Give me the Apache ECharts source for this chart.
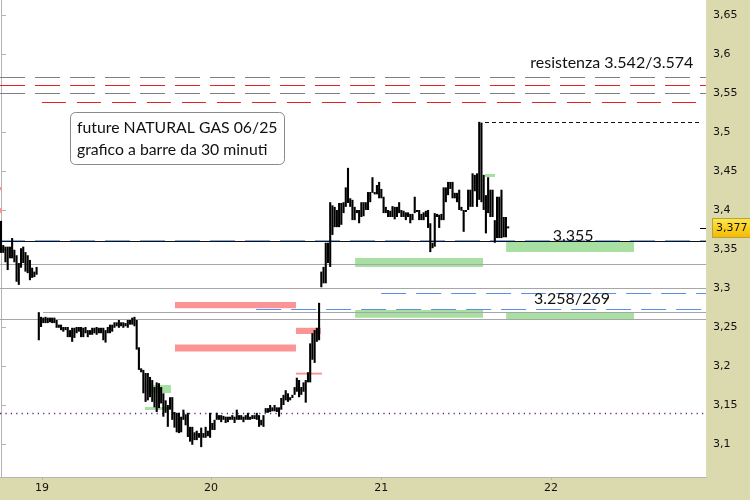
<!DOCTYPE html>
<html><head><meta charset="utf-8">
<script src="https://cdn.jsdelivr.net/npm/echarts@6/dist/echarts.min.js"></script>
<style>html,body{margin:0;padding:0;background:#dbd9ae;}#c{width:750px;height:500px;}</style>
</head><body><div id="c"></div>
<script>
// 30-minute bars: highs and lows (in order)
const highs = [
3.386,3.355,3.353,3.353,3.353,3.364,3.349,3.342,3.332,3.351,3.353,3.346,3.342,3.336,3.326,3.321,3.327,
3.269,3.263,3.262,3.263,3.262,3.262,3.262,3.262,3.259,3.253,3.253,3.250,3.250,3.250,3.246,3.249,3.249,3.250,3.250,3.250,3.249,3.250,3.246,3.246,3.249,3.249,3.250,3.249,3.249,3.249,3.246,3.250,3.253,3.253,3.256,3.256,3.259,3.256,3.256,3.255,3.259,3.259,3.262,3.263,
3.259,3.224,3.197,3.195,3.191,3.191,3.186,3.182,3.173,3.179,3.178,3.173,3.165,3.156,3.150,3.160,3.160,3.141,3.140,3.140,
3.135,3.144,3.138,3.140,3.122,3.122,3.115,3.117,3.114,3.121,3.114,3.122,3.117,3.140,3.127,3.131,3.140,3.137,3.137,3.136,
3.135,3.135,3.135,3.137,3.135,3.144,3.137,3.137,3.135,3.137,3.140,3.135,3.137,3.137,3.140,3.137,3.131,3.137,3.146,3.146,
3.150,3.147,3.150,3.147,3.147,3.159,3.163,3.169,3.165,3.160,3.163,3.173,3.185,3.182,3.173,3.179,3.182,3.192,3.229,3.242,
3.246,3.249,3.281,
3.321,3.327,3.358,3.358,3.410,3.406,3.404,3.400,3.409,3.409,3.410,3.429,3.454,3.415,3.413,3.404,3.400,3.400,3.410,3.410,
3.410,3.423,3.423,3.442,3.423,3.432,3.436,3.427,3.417,3.404,3.400,3.399,3.405,3.404,3.404,3.410,3.400,3.399,3.397,3.397,
3.395,3.395,3.417,3.400,3.400,3.395,3.397,3.399,3.400,3.383,3.358,3.396,3.395,3.394,3.395,3.429,3.429,3.436,3.436,3.436,
3.422,3.422,3.426,3.404,3.400,3.400,3.426,3.426,3.447,3.445,3.447,3.513,3.512,3.445,3.419,3.442,3.426,3.426,3.387,3.417,
3.417,3.426,3.391,3.391,3.379
];
const lows = [
3.345,3.345,3.333,3.323,3.338,3.338,3.333,3.308,3.304,3.326,3.332,3.321,3.319,3.310,3.313,3.314,3.317,
3.233,3.250,3.255,3.255,3.255,3.256,3.255,3.255,3.249,3.249,3.246,3.244,3.246,3.237,3.237,3.231,3.236,3.242,3.244,3.237,3.237,3.242,3.237,3.240,3.240,3.242,3.240,3.242,3.242,3.233,3.230,3.242,3.242,3.244,3.249,3.251,3.249,3.251,3.249,3.251,3.249,3.253,3.253,3.251,
3.221,3.195,3.192,3.165,3.154,3.156,3.160,3.154,3.147,3.141,3.146,3.152,3.135,3.140,3.122,3.144,3.131,3.121,3.115,3.114,
3.115,3.131,3.124,3.109,3.103,3.099,3.105,3.105,3.108,3.096,3.108,3.108,3.110,3.108,3.118,3.118,3.131,3.131,3.128,3.131,
3.127,3.128,3.131,3.131,3.127,3.131,3.131,3.131,3.128,3.131,3.131,3.131,3.132,3.132,3.131,3.122,3.124,3.122,3.140,3.140,
3.141,3.142,3.142,3.141,3.135,3.144,3.150,3.156,3.154,3.156,3.159,3.163,3.167,3.160,3.163,3.167,3.153,3.179,3.179,3.208,
3.204,3.231,3.233,
3.301,3.306,3.306,3.332,3.327,3.368,3.378,3.378,3.378,3.381,3.396,3.404,3.409,3.404,3.387,3.387,3.396,3.383,3.391,3.392,
3.400,3.400,3.410,3.422,3.420,3.420,3.415,3.415,3.396,3.396,3.391,3.391,3.391,3.388,3.391,3.396,3.391,3.391,3.387,3.391,
3.383,3.387,3.396,3.399,3.387,3.387,3.387,3.391,3.377,3.346,3.351,3.353,3.391,3.377,3.387,3.387,3.410,3.419,3.427,3.415,
3.415,3.410,3.400,3.399,3.372,3.399,3.400,3.404,3.404,3.424,3.404,3.413,3.410,3.400,3.370,3.396,3.391,3.391,3.358,3.364,
3.364,3.364,3.365,3.365,3.377
];
const dayLabels = ['19','20','21','22'];
const dayPos = [18.4, 94.4, 170.9, 247.3];
const yTicks = [3.1,3.15,3.2,3.25,3.3,3.35,3.4,3.45,3.5,3.55,3.6,3.65];
const lastPrice = 3.377;
const sessionHigh = 3.513;
const resistLevels = [3.5735, 3.5624, 3.5547, 3.538];
const supportLevels = [3.3575, 3.3555, 3.3346, 3.3047, 3.2936, 3.2731, 3.2686, 3.2603, 3.1423];

const X_MIN = -0.45, X_MAX = 316.95;
const GRAY = '#a6a6a6', BLUE = '#5b8ee6', RED = '#e52222', GREEN = '#a8dfa2', PINK = '#fb9494';
const TXT = 'Lato, "Noto Sans", sans-serif';

const barData = highs.map((h, i) => [i, h, lows[i]]);

function hLine(y, color, type, x1, x2, width) {
  const ls = {color: color, type: type || 'solid', width: width || 1};
  if (x1 === undefined) return {yAxis: y, lineStyle: ls};
  return [{coord: [x1, y], lineStyle: ls}, {coord: [x2, y]}];
}
function box(x1, x2, y1, y2, color) {
  return [{coord: [x1, y1], itemStyle: {color: color}}, {coord: [x2, y2]}];
}
function fmtY(v) { return String(Number(v.toFixed(3))).replace('.', ','); }

const chart = echarts.init(document.getElementById('c'));
chart.setOption({
  backgroundColor: '#dbd9ae',
  animation: false,
  title: {
    text: 'future NATURAL GAS 06/25\ngrafico a barre da 30 minuti',
    left: 70, top: 112,
    padding: [5, 7, 4, 7],
    backgroundColor: '#fff', borderColor: '#8a8a8a', borderWidth: 1, borderRadius: 5,
    textStyle: {fontFamily: TXT, fontSize: 15.8, fontWeight: 'normal', color: '#111', lineHeight: 22}
  },
  grid: {left: 0, top: 0, right: 44, bottom: 23, show: true, backgroundColor: '#fff', borderWidth: 0},
  xAxis: {
    type: 'value', min: X_MIN, max: X_MAX,
    splitLine: {show: false},
    axisLine: {show: true, onZero: false, lineStyle: {color: '#b4b4b4'}},
    axisTick: {show: true, length: 3, lineStyle: {color: '#b4b4b4'}, customValues: dayPos},
    axisLabel: {
      customValues: dayPos, color: '#111', fontFamily: 'DejaVu Sans', fontSize: 11, margin: 6,
      formatter: v => { const k = dayPos.findIndex(p => Math.abs(p - v) < 0.01); return k >= 0 ? dayLabels[k] : ''; }
    }
  },
  yAxis: {
    type: 'value', position: 'right', min: 3.0577, max: 3.6692, scale: true,
    splitLine: {show: false},
    axisLine: {show: true, lineStyle: {color: '#b4b4b4'}},
    axisTick: {show: true, length: 5, lineStyle: {color: '#b4b4b4'}, customValues: yTicks},
    axisLabel: {customValues: yTicks, color: '#111', fontFamily: 'DejaVu Sans', fontSize: 11, margin: 7, formatter: fmtY}
  },
  series: [
    {
      type: 'line', data: [], z: 1, clip: false, silent: true,
      markArea: {
        silent: true,
        data: [
          box(78.2, 132.6, 3.282, 3.274, PINK),
          box(78.2, 132.6, 3.2275, 3.2185, PINK),
          box(132.6, 143.8, 3.249, 3.241, PINK),
          box(132.6, 144.3, 3.1915, 3.1890, PINK),
          box(-0.45, 0.45, 3.4295, 3.4256, PINK),
          box(-0.45, 0.45, 3.4026, 3.3962, PINK),
          box(67.0, 76.4, 3.1756, 3.1654, GREEN),
          box(64.7, 76.0, 3.1474, 3.1436, GREEN),
          box(159.2, 216.7, 3.3385, 3.3270, GREEN),
          box(159.2, 216.7, 3.2718, 3.2619, GREEN),
          box(227.1, 284.6, 3.3590, 3.3462, GREEN),
          box(227.1, 284.6, 3.2692, 3.2603, GREEN),
          box(217.6, 222.1, 3.4462, 3.4423, GREEN),
          box(216.7, 219.9, 3.4038, 3.4013, GREEN)
        ]
      },
      markLine: {
        silent: true, symbol: 'none', label: {show: false},
        data: [
          hLine(resistLevels[0], '#808080', [25, 10]),
          hLine(resistLevels[1], RED, [25, 10]),
          hLine(resistLevels[2], '#808080', [25, 10]),
          hLine(resistLevels[3], RED, [24, 11], 18.4, 312.5),
          hLine(sessionHigh, '#111', [4, 3], 217.6, 314.3),
          hLine(supportLevels[2], GRAY),
          hLine(supportLevels[3], GRAY),
          hLine(supportLevels[4], BLUE, [25, 10], 170.9, X_MAX, 1.2),
          hLine(supportLevels[5], BLUE, [25, 10], 114.7, X_MAX, 1.2),
          hLine(supportLevels[6], GRAY, 'solid', 18.9, X_MAX),
          hLine(supportLevels[7], GRAY),
          hLine(supportLevels[8], '#5a1e8c', [1.2, 4.2], undefined, undefined, 1.3),
          hLine(supportLevels[1], BLUE, [25, 10], undefined, undefined, 1.6),
          hLine(supportLevels[0], '#111')
        ]
      },
      markPoint: {
        silent: true, symbol: 'rect', symbolSize: 1, itemStyle: {color: 'rgba(0,0,0,0)'},
        label: {show: true, position: 'inside', color: '#111', fontFamily: TXT, fontSize: 16},
        data: [
          {coord: [274.6, 3.5885], label: {formatter: 'resistenza 3.542/3.574'}},
          {coord: [257.2, 3.3667], label: {formatter: '3.355'}},
          {coord: [256.7, 3.2859], label: {formatter: '3.258/269'}}
        ]
      }
    },
    {
      type: 'custom', z: 5, clip: true, silent: true,
      data: barData,
      encode: {x: 0, y: [1, 2]},
      renderItem: function (params, api) {
        const p1 = api.coord([api.value(0), api.value(1)]);
        const p2 = api.coord([api.value(0), api.value(2)]);
        let y1 = p1[1], y2 = p2[1];
        if (y2 - y1 < 2) { y2 = y1 + 2; }
        return {type: 'line', shape: {x1: p1[0], y1: y1, x2: p1[0], y2: y2}, style: {stroke: '#000', lineWidth: 2.1}};
      }
    },
    {
      type: 'line', data: [], z: 6, clip: false, silent: true,
      markLine: {
        silent: true, symbol: 'none',
        data: [[
          {coord: [X_MAX - 2.7, lastPrice], lineStyle: {color: '#000', width: 1, type: 'solid'},
           label: {show: true, position: 'end', distance: 7, formatter: fmtY(lastPrice),
             color: '#111', fontFamily: 'DejaVu Sans', fontSize: 11, padding: [4, 3, 3, 3],
             borderColor: '#b9a23a', borderWidth: 1,
             backgroundColor: new echarts.graphic.LinearGradient(0, 0, 0, 1, [{offset: 0, color: '#ffe84a'}, {offset: 1, color: '#f4b800'}])}},
          {coord: [X_MAX, lastPrice]}
        ]]
      }
    }
  ]
});
</script></body></html>
